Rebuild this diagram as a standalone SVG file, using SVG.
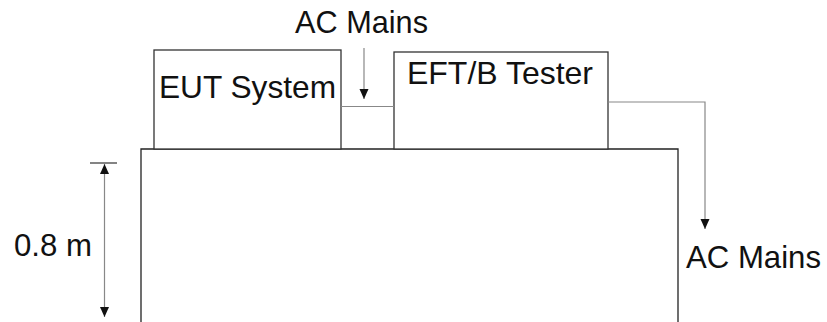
<svg xmlns="http://www.w3.org/2000/svg" width="827" height="322" viewBox="0 0 827 322">
<defs>
<style>
.box{fill:#fff;stroke:#333;stroke-width:1.3}
.tbl{fill:none;stroke:#222;stroke-width:1.3}
.con{fill:none;stroke:#888;stroke-width:1.2}
.lbl{font-family:"Liberation Sans",Arial,sans-serif;font-size:31.5px;fill:#111}
</style>
<marker id="ah" viewBox="0 0 10 10" refX="10" refY="5" markerWidth="10" markerHeight="10" markerUnits="userSpaceOnUse" orient="auto">
<path d="M0,0.5 L10,5 L0,9.5 Z" fill="#111"/>
</marker>
<marker id="ahs" viewBox="0 0 10 10" refX="10" refY="5" markerWidth="10" markerHeight="10" markerUnits="userSpaceOnUse" orient="auto-start-reverse">
<path d="M0,0.5 L10,5 L0,9.5 Z" fill="#111"/>
</marker>
</defs>
<g id="table">
<path class="tbl" d="M141,322 V149 H678 V322"/>
</g>
<g id="eut">
<rect class="box" x="154" y="50" width="187" height="99"/>
<text class="lbl" x="159" y="97.5" textLength="177" lengthAdjust="spacingAndGlyphs">EUT System</text>
</g>
<g id="eft">
<rect class="box" x="394" y="52" width="214" height="97"/>
<text class="lbl" x="407" y="84" textLength="186" lengthAdjust="spacingAndGlyphs">EFT/B Tester</text>
</g>
<g id="connectors">
<line class="con" x1="341" y1="106.5" x2="394" y2="106.5"/>
<line class="con" x1="364" y1="48" x2="364" y2="99" marker-end="url(#ah)"/>
<path class="con" d="M608,102 H705 V229" marker-end="url(#ah)"/>
<line class="con" x1="90" y1="163" x2="117" y2="163" style="stroke:#333"/>
<line class="con" x1="104.5" y1="164" x2="104.5" y2="317" marker-start="url(#ahs)" marker-end="url(#ahs)"/>
</g>
<g id="labels">
<text class="lbl" x="295" y="33" textLength="133" lengthAdjust="spacingAndGlyphs">AC Mains</text>
<text class="lbl" x="686" y="267.5" textLength="135" lengthAdjust="spacingAndGlyphs">AC Mains</text>
<text class="lbl" x="14" y="256" textLength="78" lengthAdjust="spacingAndGlyphs">0.8 m</text>
</g>
</svg>
